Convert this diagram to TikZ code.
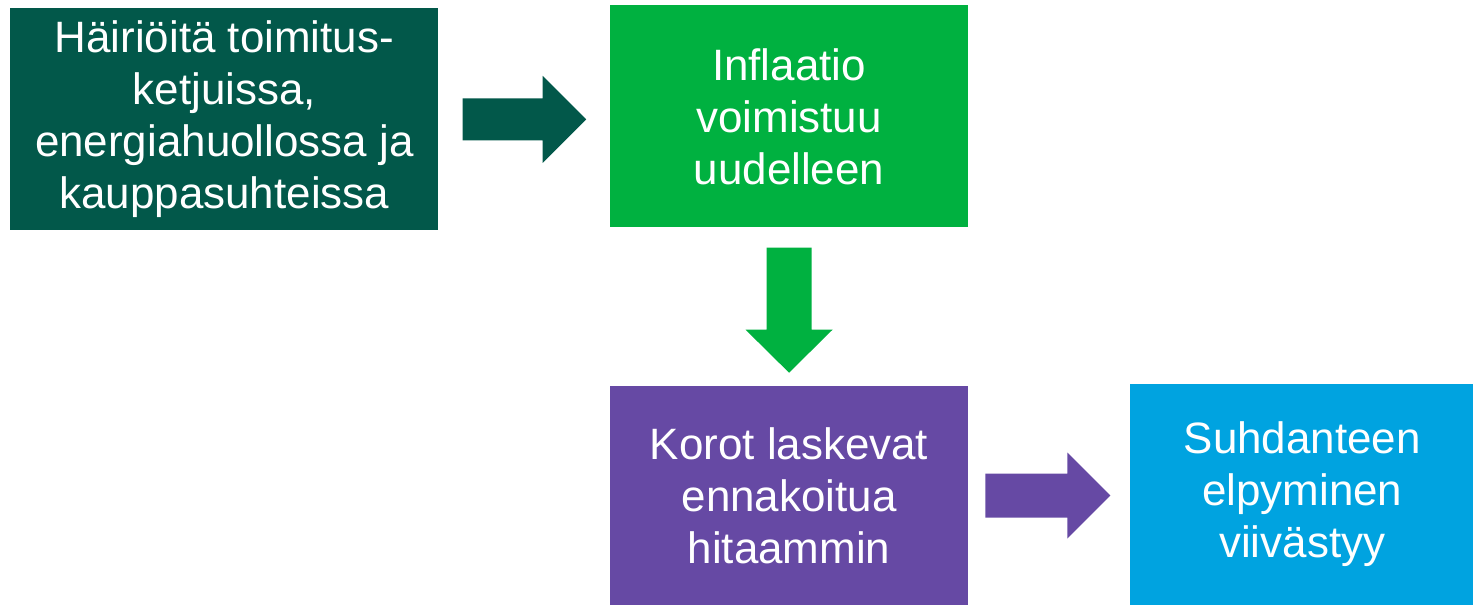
\documentclass[tikz,border=0pt]{standalone}
\usepackage{fontspec}
\setmainfont{Liberation Sans}
\usetikzlibrary{positioning, calc}
\definecolor{DeepGreen}{HTML}{02584A}
\definecolor{BrightGreen}{HTML}{00B140}
\definecolor{RatePurple}{HTML}{6649A4}
\definecolor{SkyBlue}{HTML}{00A3E0}
\tikzset{
    box/.style={inner sep=0pt, align=center, text=white, font=\fontsize{25}{29.6}\selectfont, minimum height=4.44cm,
      execute at begin node={\rule{0pt}{0.93em}}},
    shockbox/.style={box, fill=DeepGreen, minimum width=8.56cm},
    inflbox/.style={box, fill=BrightGreen, minimum width=7.16cm},
    ratebox/.style={box, fill=RatePurple, minimum width=7.16cm, minimum height=4.38cm},
    cyclebox/.style={box, fill=SkyBlue, minimum width=6.9cm, minimum height=4.42cm}
}

\begin{document}
\begin{tikzpicture}
    \useasboundingbox (0,0) rectangle (29.46,-12.10);

    \node[shockbox, anchor=north west] (shock) at (0.2,-0.16) {
      Häiriöitä toimitus-\\
      ketjuissa,\\
      energiahuollossa ja\\
      kauppasuhteissa
    };

    \node[inflbox, right=3.42cm of shock.north east, anchor=north west, yshift=0.06cm] (infl) {
      Inflaatio\\
      voimistuu\\
      uudelleen
    };

    \node[ratebox, below=3.16cm of infl] (rates) {
      Korot laskevat\\
      ennakoitua\\
      hitaammin
    };

    \node[cyclebox, right=3.22cm of rates.north east, anchor=north west, yshift=0.04cm] (cycle) {
      Suhdanteen\\
      elpyminen\\
      viivästyy
    };

    % block arrows between the boxes
    \fill[DeepGreen] ([xshift=0.48cm, yshift=0.42cm]shock.east) -- ++(1.6,0) -- ++(0,0.45)
      -- ++(0.87,-0.87) -- ++(-0.87,-0.87) -- ++(0,0.45) -- ++(-1.6,0) -- cycle;
    \fill[BrightGreen] ([xshift=-0.45cm, yshift=-0.4cm]infl.south) -- ++(0,-1.64) -- ++(-0.42,0)
      -- ++(0.87,-0.86) -- ++(0.87,0.86) -- ++(-0.42,0) -- ++(0,1.64) -- cycle;
    \fill[RatePurple] ([xshift=0.34cm, yshift=0.44cm]rates.east) -- ++(1.64,0) -- ++(0,0.42)
      -- ++(0.86,-0.86) -- ++(-0.86,-0.86) -- ++(0,0.42) -- ++(-1.64,0) -- cycle;
\end{tikzpicture}
\end{document}
